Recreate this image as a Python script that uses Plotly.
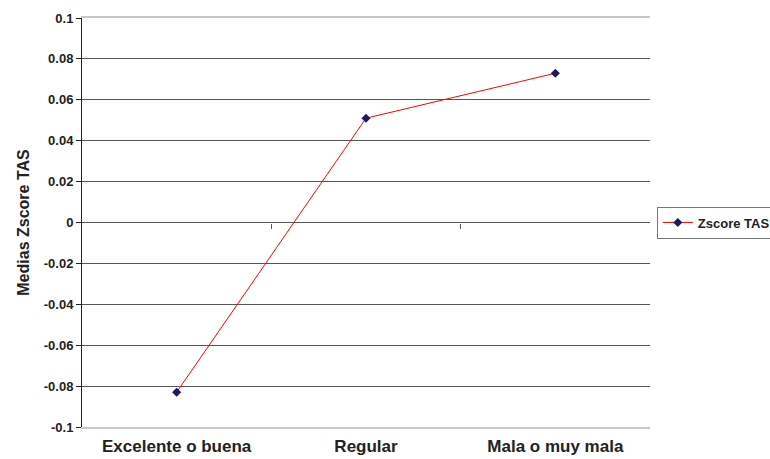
import plotly.graph_objects as go

# Category means of the TAS z-score
categories = ["Excelente o buena", "Regular", "Mala o muy mala"]
zscore_tas = [-0.083, 0.051, 0.073]

y_tick_values = [0.1, 0.08, 0.06, 0.04, 0.02, 0, -0.02, -0.04, -0.06, -0.08, -0.1]
y_tick_labels = ["0.1", "0.08", "0.06", "0.04", "0.02", "0", "-0.02", "-0.04", "-0.06", "-0.08", "-0.1"]

positions = list(range(len(categories)))
boundaries = [p + 0.5 for p in positions[:-1]]

fig = go.Figure()
fig.add_trace(go.Scatter(
    x=positions, y=zscore_tas, name="Zscore TAS",
    mode="lines+markers",
    line=dict(color="#ff0000", width=1),
    marker=dict(symbol="diamond", size=7, color="#1a1a5c"),
))

# Horizontal category axis crossing at y = 0, with tick marks between categories
fig.add_trace(go.Scatter(x=[None], y=[None], xaxis="x2", showlegend=False, hoverinfo="skip"))

font_family = "Liberation Sans, Arial, sans-serif"

fig.update_layout(
    width=770, height=459,
    margin=dict(l=82, r=120, t=18, b=32, autoexpand=False),
    paper_bgcolor="white", plot_bgcolor="white",
    font=dict(family=font_family, color="#222222"),
    showlegend=True,
    legend=dict(
        x=1.012, y=0.5, xanchor="left", yanchor="middle",
        bordercolor="#777777", borderwidth=1,
        font=dict(size=13, family=font_family, weight="bold"),
        itemwidth=30, tracegroupgap=0,
    ),
    xaxis=dict(
        range=[-0.5, 2.5], tickmode="array", tickvals=positions, ticktext=categories,
        ticks="", showgrid=False, zeroline=False,
        showline=True, linecolor="#c8c8c8", linewidth=2, mirror=True,
        tickfont=dict(size=17, family=font_family, weight="bold", color="#222222"),
        ticklabelstandoff=3,
    ),
    xaxis2=dict(
        range=[-0.5, 2.5], overlaying="x", anchor="free", position=0.5, side="bottom",
        tickmode="array", tickvals=boundaries, ticks="outside", ticklen=5,
        tickcolor="#555555", showticklabels=False, showgrid=False, zeroline=False,
        showline=False,
    ),
    yaxis=dict(
        range=[-0.1, 0.1], tickmode="array", tickvals=y_tick_values, ticktext=y_tick_labels,
        ticks="outside", ticklen=5, tickcolor="#222222",
        showline=True, linecolor="#222222", linewidth=1,
        showgrid=True, gridcolor="#555555", gridwidth=1,
        zeroline=True, zerolinecolor="#555555", zerolinewidth=1,
        tickfont=dict(size=13, family=font_family, weight="bold", color="#222222"),
        title=dict(text="Medias Zscore TAS", standoff=10,
                   font=dict(size=16, family=font_family, weight="bold", color="#222222")),
    ),
)

fig.write_html("out.html")
